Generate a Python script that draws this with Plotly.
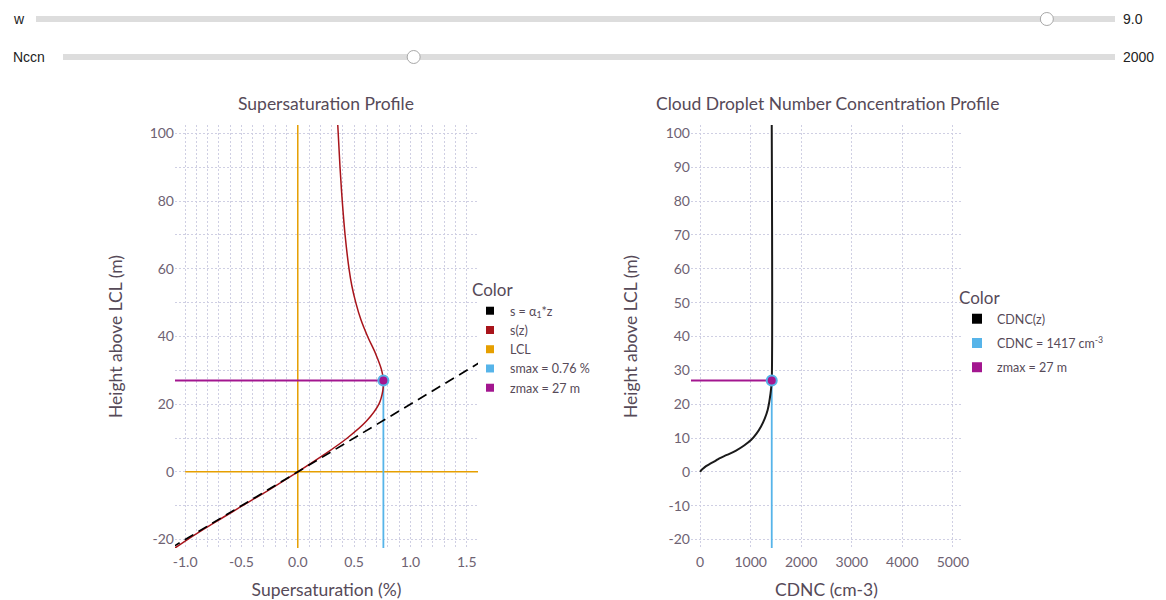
import plotly.graph_objects as go

# ---------------- data ----------------
# Supersaturation profile s(z)
z_s = [-22.5, -20, -15, -10, -5, 0, 5, 10, 15, 20, 24, 27, 30, 35, 40, 45, 50, 55, 60, 70, 80, 90, 102.5]
s_z = [-1.09, -0.98, -0.74, -0.49, -0.24, 0.0, 0.23, 0.44, 0.61, 0.72, 0.755, 0.76, 0.745, 0.69,
       0.62, 0.56, 0.515, 0.48, 0.455, 0.42, 0.395, 0.375, 0.355]
# linear approximation s = a1*z
z_lin = [-22.5, 32.5]
s_lin = [-1.125, 1.625]
# CDNC profile
z_n = [0, 0.5, 1, 1.7, 2.5, 3.2, 4, 5, 6.3, 7.8, 9.4, 11.3, 13.4, 15.8, 18.3, 20.7, 23.2, 25, 27, 102.5]
cdnc = [0, 25, 60, 118, 210, 295, 381, 530, 711, 870, 1007, 1115, 1205, 1280, 1336, 1368, 1393,
        1407, 1417, 1417]
smax = 0.76
zmax = 27
cdnc_max = 1417
# slider widgets
w_value, w_min, w_max = 9.0, 0.1, 9.6
nccn_value, nccn_min, nccn_max = 2000, 0, 6000

# tick labels
x1_ticks = [-1.0, -0.5, 0.0, 0.5, 1.0, 1.5]
x1_labels = ["-1.0", "-0.5", "0.0", "0.5", "1.0", "1.5"]
y1_ticks = [-20, 0, 20, 40, 60, 80, 100]
y1_labels = ["-20", "0", "20", "40", "60", "80", "100"]
x2_ticks = [0, 1000, 2000, 3000, 4000, 5000]
x2_labels = ["0", "1000", "2000", "3000", "4000", "5000"]
y2_ticks = [-20, -10, 0, 10, 20, 30, 40, 50, 60, 70, 80, 90, 100]
y2_labels = ["-20", "-10", "0", "10", "20", "30", "40", "50", "60", "70", "80", "90", "100"]

# axis ranges
xr1 = [-1.09, 1.6]
yr = [-22.5, 102.5]
xr2 = [-180, 5180]
lcl_s = [-1.0, 1.6]

# colours
C_BLACK = "#000000"
C_RED = "#a8141b"
C_ORANGE = "#E69F00"
C_BLUE = "#56B4E9"
C_PURPLE = "#a3168f"
GRID = "#cfcfe3"
TXT = "#564a58"
TICK = "#6e6272"
FONT = "Lato"

W, H = 1166, 600
OX, OY = 8, 8          # page body margin of the browser
FW, FH = W - OX, H - OY


def px_x(p):
    return (p - OX) / FW


def px_y(p):
    return 1 - (p - OY) / FH


fig = go.Figure()

# ---- left panel ----
fig.add_trace(go.Scatter(x=[0, 0], y=yr, mode="lines", line=dict(color=C_ORANGE, width=1.5),
                         xaxis="x", yaxis="y", showlegend=False, hoverinfo="skip"))
fig.add_trace(go.Scatter(x=lcl_s, y=[0, 0], mode="lines", line=dict(color=C_ORANGE, width=1.5),
                         xaxis="x", yaxis="y", showlegend=False, hoverinfo="skip"))
fig.add_trace(go.Scatter(x=[smax, smax], y=[yr[0], zmax], mode="lines", line=dict(color=C_BLUE, width=1.8),
                         xaxis="x", yaxis="y", showlegend=False))
fig.add_trace(go.Scatter(x=[xr1[0], smax], y=[zmax, zmax], mode="lines", line=dict(color=C_PURPLE, width=1.8),
                         xaxis="x", yaxis="y", showlegend=False))
fig.add_trace(go.Scatter(x=s_z, y=z_s, mode="lines", line=dict(color=C_RED, width=1.5, shape="spline"),
                         xaxis="x", yaxis="y", showlegend=False))
fig.add_trace(go.Scatter(x=s_lin, y=z_lin, mode="lines", line=dict(color=C_BLACK, width=1.7, dash="10px,6px"),
                         xaxis="x", yaxis="y", showlegend=False))
fig.add_trace(go.Scatter(x=[smax], y=[zmax], mode="markers",
                         marker=dict(color=C_PURPLE, size=10, line=dict(color=C_BLUE, width=2)),
                         xaxis="x", yaxis="y", showlegend=False))

# ---- right panel ----
fig.add_trace(go.Scatter(x=[cdnc_max, cdnc_max], y=[yr[0], zmax], mode="lines", line=dict(color=C_BLUE, width=1.8),
                         xaxis="x2", yaxis="y2", showlegend=False))
fig.add_trace(go.Scatter(x=[xr2[0], cdnc_max], y=[zmax, zmax], mode="lines", line=dict(color=C_PURPLE, width=1.8),
                         xaxis="x2", yaxis="y2", showlegend=False))
fig.add_trace(go.Scatter(x=cdnc, y=z_n, mode="lines", line=dict(color="#1a1a1a", width=2, shape="spline"),
                         xaxis="x2", yaxis="y2", showlegend=False))
fig.add_trace(go.Scatter(x=[cdnc_max], y=[zmax], mode="markers",
                         marker=dict(color=C_PURPLE, size=10, line=dict(color=C_BLUE, width=2)),
                         xaxis="x2", yaxis="y2", showlegend=False))

# ---- legend entries ----
leg1 = [("s = α<sub>1</sub>*z", C_BLACK), ("s(z)", C_RED), ("LCL", C_ORANGE),
        (f"smax = {smax} %", C_BLUE), (f"zmax = {zmax} m", C_PURPLE)]
for name, col in leg1:
    fig.add_trace(go.Scatter(x=[None], y=[None], mode="markers", name=name,
                             marker=dict(symbol="square", size=8, color=col),
                             xaxis="x", yaxis="y", legend="legend"))
leg2 = [("CDNC(z)", C_BLACK), (f"CDNC = {cdnc_max} cm<sup>-3</sup>", C_BLUE), (f"zmax = {zmax} m", C_PURPLE)]
for i, (name, col) in enumerate(leg2):
    fig.add_trace(go.Scatter(x=[None], y=[None], mode="markers", name=name, legendgroup=f"g{i}",
                             marker=dict(symbol="square", size=10, color=col),
                             xaxis="x2", yaxis="y2", legend="legend2"))

minor_grid = dict(showgrid=True, gridcolor=GRID, griddash="2px,2px", gridwidth=1)
axis_common = dict(showline=False, zeroline=False, gridcolor=GRID, griddash="2px,2px", gridwidth=1,
                   ticks="", tickfont=dict(size=14, color=TICK, family=FONT),
                   title_font=dict(size=17.5, color=TXT, family=FONT), automargin=False)

fig.update_layout(
    width=FW, height=FH,
    margin=dict(l=0, r=0, t=0, b=0),
    paper_bgcolor="white", plot_bgcolor="white",
    font=dict(family=FONT, color=TXT),
    xaxis=dict(domain=[px_x(175), px_x(478)], range=xr1, tickvals=x1_ticks, ticktext=x1_labels,
               minor=dict(dtick=0.1, **minor_grid), ticklabelstandoff=4,
               anchor="y", title=dict(text="Supersaturation (%)", standoff=16), **axis_common),
    yaxis=dict(domain=[px_y(548), px_y(125)], range=yr, tickvals=y1_ticks, ticktext=y1_labels,
               minor=dict(dtick=10, **minor_grid),
               anchor="x", title=dict(text="Height above LCL (m)", standoff=22), **axis_common),
    xaxis2=dict(domain=[px_x(691), px_x(962)], range=xr2, tickvals=x2_ticks, ticktext=x2_labels,
                ticklabelstandoff=4,
                anchor="y2", title=dict(text="CDNC (cm-3)", standoff=16), **axis_common),
    yaxis2=dict(domain=[px_y(548), px_y(125)], range=yr, tickvals=y2_ticks, ticktext=y2_labels,
                anchor="x2", title=dict(text="Height above LCL (m)", standoff=23), **axis_common),
    legend=dict(x=px_x(470), y=px_y(274), xanchor="left", yanchor="top",
                title=dict(text="Color", font=dict(size=17, color=TXT, family=FONT)),
                font=dict(size=12.5, color=TXT, family=FONT), itemwidth=30, tracegroupgap=0,
                bgcolor="rgba(0,0,0,0)"),
    legend2=dict(x=px_x(957), y=px_y(282), xanchor="left", yanchor="top",
                 title=dict(text="Color", font=dict(size=17, color=TXT, family=FONT)),
                 font=dict(size=12.5, color=TXT, family=FONT), itemwidth=30, tracegroupgap=5,
                 traceorder="grouped", bgcolor="rgba(0,0,0,0)"),
    showlegend=True,
)

# subplot titles
fig.add_annotation(text="Supersaturation Profile", x=px_x(326), y=px_y(103), xref="paper", yref="paper",
                   xanchor="center", yanchor="middle",
                   showarrow=False, font=dict(size=17.5, color=TXT, family=FONT))
fig.add_annotation(text="Cloud Droplet Number Concentration Profile", x=px_x(827), y=px_y(103),
                   xref="paper", yref="paper", xanchor="center", yanchor="middle",
                   showarrow=False, font=dict(size=17.5, color=TXT, family=FONT))

# ---- slider widgets (decoration above the plots) ----
sliders = [("w", w_value, w_min, w_max, 36, 19, f"{w_value:.1f}"),
           ("Nccn", nccn_value, nccn_min, nccn_max, 63, 57, f"{nccn_value}")]
track_end = 1115
for label, val, vmin, vmax, x0, yc, vtxt in sliders:
    fig.add_shape(type="rect", xref="paper", yref="paper",
                  x0=px_x(x0), x1=px_x(track_end), y0=px_y(yc + 3), y1=px_y(yc - 3),
                  fillcolor="#dddddd", line=dict(width=0), layer="above")
    frac = (val - vmin) / (vmax - vmin)
    hx = x0 + frac * (track_end - x0)
    fig.add_shape(type="circle", xref="paper", yref="paper",
                  x0=px_x(hx - 6.5), x1=px_x(hx + 6.5), y0=px_y(yc + 6.5), y1=px_y(yc - 6.5),
                  fillcolor="white", line=dict(color="#a8a8a8", width=1), layer="above")
    fig.add_annotation(text=label, x=px_x(11), y=px_y(yc), xref="paper", yref="paper",
                       xanchor="left", yanchor="middle",
                       showarrow=False, font=dict(size=14, color="#222222", family="Liberation Sans"))
    fig.add_annotation(text=vtxt, x=px_x(1121), y=px_y(yc), xref="paper", yref="paper",
                       xanchor="left", yanchor="middle",
                       showarrow=False, font=dict(size=14, color="#222222", family="Liberation Sans"))

fig.write_html("out.html")
